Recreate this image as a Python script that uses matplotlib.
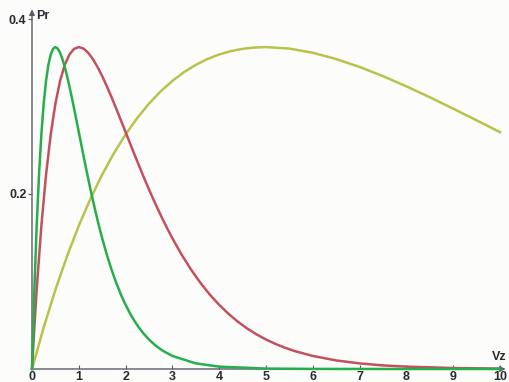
import matplotlib
matplotlib.use("Agg")
import matplotlib.pyplot as plt

plt.rcParams["font.family"] = ["Liberation Sans", "DejaVu Sans"]

# Values
green_v = [0, 0.025, 0.05, 0.1, 0.15, 0.2, 0.25, 0.3, 0.35, 0.4, 0.45, 0.5, 0.55, 0.6,
           0.65, 0.7, 0.75, 0.8, 0.85, 0.9, 0.95, 1.0, 1.05, 1.1, 1.15, 1.2, 1.25, 1.3,
           1.35, 1.4, 1.45, 1.5, 1.6, 1.7, 1.8, 1.9, 2.0, 2.1, 2.2, 2.3, 2.4, 2.5, 2.6,
           2.7, 2.8, 3.0, 3.5, 4.0, 5.0, 6.0, 8.0, 10.0]
green_p = [0, 0.0476, 0.0905, 0.1637, 0.2222, 0.2681, 0.3033, 0.3293, 0.3476, 0.3595,
           0.3659, 0.3679, 0.3662, 0.3614, 0.3543, 0.3452, 0.3347, 0.3230, 0.3106,
           0.2975, 0.2842, 0.2707, 0.2572, 0.2438, 0.2306, 0.2177, 0.2052, 0.1931,
           0.1815, 0.1703, 0.1596, 0.1494, 0.1304, 0.1135, 0.0984, 0.0850, 0.0733,
           0.0630, 0.0540, 0.0462, 0.0395, 0.0337, 0.0287, 0.0244, 0.0207, 0.0149,
           0.0064, 0.0027, 0.0005, 0.0001, 0.0, 0.0]

red_v = [0, 0.05, 0.1, 0.2, 0.3, 0.4, 0.5, 0.6, 0.7, 0.8, 0.9, 1.0, 1.1, 1.2, 1.3, 1.4,
         1.5, 1.6, 1.7, 1.8, 1.9, 2.0, 2.1, 2.2, 2.3, 2.4, 2.5, 2.6, 2.7, 2.8, 2.9, 3.0,
         3.2, 3.4, 3.6, 3.8, 4.0, 4.2, 4.4, 4.6, 4.8, 5.0, 5.2, 5.4, 5.6, 6.0, 6.5, 7.0,
         7.5, 8.0, 9.0, 10.0]
red_p = [0, 0.0476, 0.0905, 0.1637, 0.2222, 0.2681, 0.3033, 0.3293, 0.3476, 0.3595,
         0.3659, 0.3679, 0.3662, 0.3614, 0.3543, 0.3452, 0.3347, 0.3230, 0.3106,
         0.2975, 0.2842, 0.2707, 0.2572, 0.2438, 0.2306, 0.2177, 0.2052, 0.1931,
         0.1815, 0.1703, 0.1596, 0.1494, 0.1304, 0.1135, 0.0984, 0.0850, 0.0733,
         0.0630, 0.0540, 0.0462, 0.0395, 0.0337, 0.0287, 0.0244, 0.0207, 0.0149,
         0.0098, 0.0064, 0.0041, 0.0027, 0.0011, 0.0005]

yellow_v = [0, 0.25, 0.5, 0.75, 1.0, 1.25, 1.5, 1.75, 2.0, 2.25, 2.5, 2.75, 3.0, 3.25,
            3.5, 3.75, 4.0, 4.25, 4.5, 4.75, 5.0, 5.5, 6.0, 6.5, 7.0, 7.5, 8.0, 8.5,
            9.0, 9.5, 10.0]
yellow_p = [0, 0.0476, 0.0905, 0.1291, 0.1637, 0.1947, 0.2222, 0.2466, 0.2681, 0.2869,
            0.3033, 0.3173, 0.3293, 0.3393, 0.3476, 0.3543, 0.3595, 0.3633, 0.3659,
            0.3674, 0.3679, 0.3662, 0.3614, 0.3542, 0.3452, 0.3347, 0.3230, 0.3106,
            0.2975, 0.2842, 0.2707]

x_ticks = [0, 1, 2, 3, 4, 5, 6, 7, 8, 9, 10]
x_labels = ["0", "1", "2", "3", "4", "5", "6", "7", "8", "9", "10"]
y_ticks = [0.2, 0.4]
y_labels = ["0.2", "0.4"]

fig = plt.figure(figsize=(5.10, 3.82), dpi=100)
fig.patch.set_facecolor("#fcfcfa")
ax = fig.add_axes([32/510, 13/382, 468/510, 350/382])
ax.set_facecolor("none")
ax.set_xlim(0, 10)
ax.set_ylim(0, 0.4)
for s in ax.spines.values():
    s.set_visible(False)

axis_col = "#5a5a6a"
ax.annotate("", xy=(10.12, 0), xytext=(0, 0), xycoords="data",
            arrowprops=dict(arrowstyle="-|>", color=axis_col, lw=1.0,
                            mutation_scale=8, shrinkA=0, shrinkB=0),
            annotation_clip=False)
ax.annotate("", xy=(0, 0.411), xytext=(0, 0), xycoords="data",
            arrowprops=dict(arrowstyle="-|>", color=axis_col, lw=1.0,
                            mutation_scale=8, shrinkA=0, shrinkB=0),
            annotation_clip=False)

ax.plot(yellow_v, yellow_p, color="#b9c24a", lw=1.8, clip_on=False, zorder=3)
ax.plot(red_v, red_p, color="#c2505e", lw=1.8, clip_on=False, zorder=4)
ax.plot(green_v, green_p, color="#26ad4c", lw=1.8, clip_on=False, zorder=5)

ax.set_xticks(x_ticks)
ax.set_xticklabels(x_labels)
ax.set_yticks(y_ticks)
ax.set_yticklabels(y_labels)
ax.tick_params(axis="x", direction="in", length=3, width=0.8, color=axis_col,
               pad=1.5, labelsize=9, labelcolor="#2a2a30")
ax.tick_params(axis="y", direction="out", length=3, width=0.8, color=axis_col,
               pad=1, labelsize=9, labelcolor="#2a2a30")
for lab in ax.get_xticklabels() + ax.get_yticklabels():
    lab.set_fontweight("bold")

ax.text(0.08, 0.403, "Pr", fontsize=9, fontweight="bold", color="#2a2a30",
        ha="left", va="center")
ax.text(10.15, 0.007, "Vz", fontsize=9, fontweight="bold", color="#2a2a30",
        ha="right", va="bottom")

fig.savefig("out.png", dpi=100, facecolor=fig.get_facecolor())
